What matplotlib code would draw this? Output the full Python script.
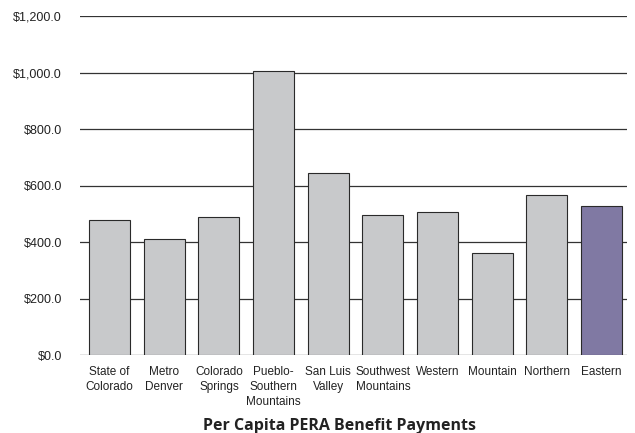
import matplotlib
matplotlib.use("Agg")
import matplotlib.pyplot as plt
from matplotlib.ticker import FuncFormatter

# data
regions = ["State of\nColorado", "Metro\nDenver", "Colorado\nSprings",
           "Pueblo-\nSouthern\nMountains", "San Luis\nValley",
           "Southwest\nMountains", "Western", "Mountain", "Northern", "Eastern"]
payments = [477, 411, 490, 1006, 645, 497, 505, 360, 567, 529]
highlight = "Eastern"

plt.rcParams['font.family'] = ['Liberation Sans', 'DejaVu Sans']

fig = plt.figure(figsize=(6.35, 4.33), dpi=100)
ax = fig.add_axes([0.126, 0.180, 0.861, 0.783])

colors = ['#8079a3' if r == highlight else '#c8c9cb' for r in regions]
ax.bar(range(len(regions)), payments, width=0.75, color=colors,
       edgecolor='#2a2a2a', linewidth=0.8, zorder=3)

ax.set_ylim(0, 1200)
ax.set_xlim(-0.54, len(regions) - 0.54)
ax.set_yticks(range(0, 1201, 200))
ax.yaxis.set_major_formatter(FuncFormatter(lambda v, p: f"${v:,.1f}"))
ax.grid(axis='y', color='#333333', linewidth=0.9, zorder=0)

ax.set_xticks(range(len(regions)))
ax.set_xticklabels(regions, fontsize=8.5, linespacing=1.3, color='#222222')
ax.tick_params(axis='x', length=0, pad=8)
ax.tick_params(axis='y', length=0, pad=13, labelsize=9, labelcolor='#222222')

for s in ax.spines.values():
    s.set_visible(False)

fig.text(0.535, 0.016, "Per Capita PERA Benefit Payments", ha='center', va='center',
         fontsize=11.5, fontweight='bold', family=['Open Sans', 'DejaVu Sans'], color='#222222')

fig.savefig("out.png", dpi=100)
